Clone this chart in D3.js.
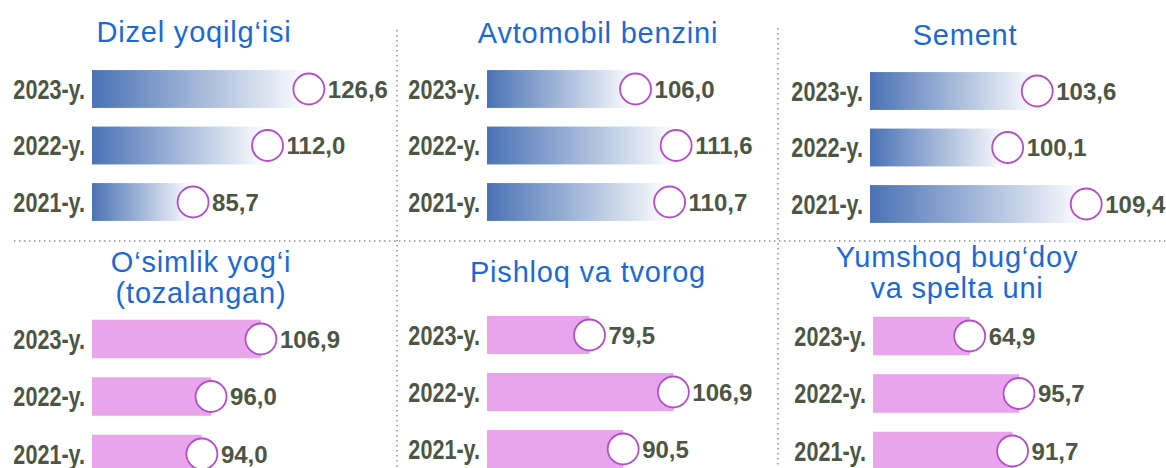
<!DOCTYPE html>
<html>
<head>
<meta charset="utf-8">
<script src="https://cdn.jsdelivr.net/npm/d3@7"></script>
<style>
  body { margin: 0; background: #fff; }
  svg { display: block; }
</style>
</head>
<body>
<svg id="chart" width="1166" height="468"></svg>
<script>
// chart data
var years = ["2023-y.", "2022-y.", "2021-y."];
var titles = [
    ["Dizel yoqilg‘isi"],
    ["Avtomobil benzini"],
    ["Sement"],
    ["O‘simlik yog‘i", "(tozalangan)"],
    ["Pishloq va tvorog"],
    ["Yumshoq bug‘doy", "va spelta uni"]
];
var dizel    = [126.6, 112.0, 85.7];
var benzin   = [106.0, 111.6, 110.7];
var sement   = [103.6, 100.1, 109.4];
var osimlik  = [106.9, 96.0, 94.0];
var pishloq  = [79.5, 106.9, 90.5];
var bugdoy   = [64.9, 95.7, 91.7];
var series = [dizel, benzin, sement, osimlik, pishloq, bugdoy];

// each small panel has its own value axis (the picture is not drawn from zero)
var xDomains = [[50, 138.3], [85.5, 120], [83.8, 113.4], [70, 124.6], [46, 127.7], [4.5, 160.7]];

// layout of the six panels
var barLeft  = [92, 487, 870, 92, 487, 873];
var firstRow = [89, 89, 91, 339, 335, 336];
var rowStep  = [56.5, 56.5, 56.5, 57.5, 57, 57.5];
var titleX   = [194, 598, 965, 201, 588, 957];
var titleY   = [42, 43, 45, 272, 282, 267];

var fmt = d3.formatLocale({decimal: ",", thousands: " ", grouping: [3], currency: ["", ""]}).format(".1f");

svg = d3.select("#chart");

// blue fading gradient for the top row
var grad = svg.append("defs").append("linearGradient")
    .attr("id", "blueFade")
    .attr("x1", "0%").attr("x2", "100%")
    .attr("y1", "0%").attr("y2", "0%");
grad.append("stop").attr("offset", "0%").attr("stop-color", "#4a72b5");
grad.append("stop").attr("offset", "100%").attr("stop-color", "#ffffff");

// dotted separators between panels
function dotted(x1, y1, x2, y2) {
    svg.append("line")
    .attr("x1", x1).attr("y1", y1)
    .attr("x2", x2).attr("y2", y2)
    .attr("stroke", "#8a8a8a")
    .attr("stroke-width", 1.4)
    .attr("stroke-dasharray", "1.4,3.6");
}
dotted(397, 30, 397, 468);
dotted(778, 28, 778, 468);
dotted(14, 241, 1166, 241);

function draw_panel(p) {
    var data = series[p];
    var top = p < 3;
    var g = svg.append("g");

    var x = d3.scaleLinear()
    .domain(xDomains[p])
    .range([barLeft[p], barLeft[p] + 250]);

    var step = rowStep[p];
    var y = d3.scaleBand()
    .domain(years)
    .range([firstRow[p] - step / 2, firstRow[p] + step * 2.5])
    .paddingInner(0.33)
    .paddingOuter(0.165);

    // title, one or two lines
    g.append("text")
    .attr("x", titleX[p])
    .attr("y", titleY[p])
    .attr("text-anchor", "middle")
    .attr("font-family", "'Liberation Sans', Arial, sans-serif")
    .attr("font-size", 29)
    .attr("letter-spacing", 0.8)
    .attr("fill", "#1c69d4")
    .selectAll("tspan")
    .data(titles[p])
    .enter()
    .append("tspan")
    .attr("x", titleX[p])
    .attr("dy", function(d, i) {return i == 0 ? 0 : 31;})
    .text(function(d) {return d;});

    var rows = g.selectAll("g.row")
    .data(data)
    .enter()
    .append("g")
    .attr("class", "row");

    rows.append("rect")
    .attr("x", x.range()[0])
    .attr("y", function(d, i) {return y(years[i]);})
    .attr("width", function(d) {return x(d) - x.range()[0];})
    .attr("height", y.bandwidth())
    .attr("fill", top ? "url(#blueFade)" : "#e8a5ec");

    rows.append("circle")
    .attr("cx", function(d) {return x(d);})
    .attr("cy", function(d, i) {return y(years[i]) + y.bandwidth() / 2;})
    .attr("r", 15.5)
    .attr("fill", "#fff")
    .attr("stroke", "#b44ccb")
    .attr("stroke-width", 1.8);

    // value labels right of the circles
    rows.append("text")
    .attr("x", function(d) {return x(d) + 19;})
    .attr("y", function(d, i) {return y(years[i]) + y.bandwidth() / 2;})
    .attr("dy", "0.36em")
    .attr("font-family", "'Liberation Sans', Arial, sans-serif")
    .attr("font-weight", "bold")
    .attr("font-size", 24)
    .attr("fill", "#4b5644")
    .text(function(d) {return fmt(d);});

    // year labels, a narrow bold face
    rows.append("text")
    .attr("transform", function(d, i) {
        return "translate(" + (x.range()[0] - 7) + "," + (y(years[i]) + y.bandwidth() / 2) + ") scale(0.8,1)";
    })
    .attr("dy", "0.36em")
    .attr("text-anchor", "end")
    .attr("font-family", "'Liberation Sans', Arial, sans-serif")
    .attr("font-weight", "bold")
    .attr("font-size", 27)
    .attr("fill", "#4b5644")
    .text(function(d, i) {return years[i];});
}

for (p = 0; p < 6; p++) {
    draw_panel(p);
}
</script>
</body>
</html>
